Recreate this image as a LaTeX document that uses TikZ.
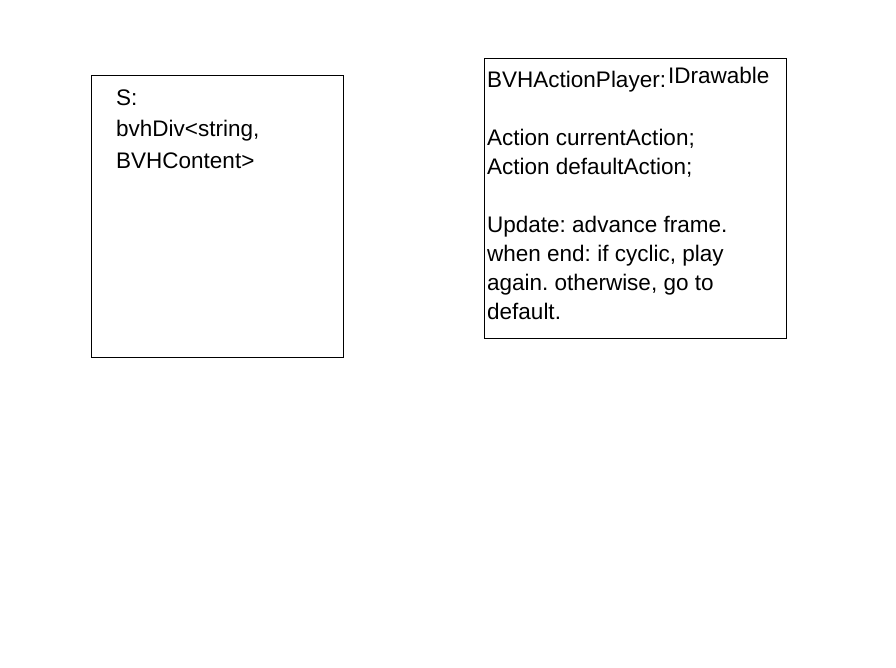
\documentclass[tikz,border=0pt]{standalone}
\usepackage{fontspec}
\setmainfont{Liberation Sans}
\usetikzlibrary{positioning}
\frenchspacing

\begin{document}
\begin{tikzpicture}[
  x=1pt,y=-1pt,
  classbox/.style={draw=black,line width=0.9pt,anchor=north west,inner sep=0pt},
  boxtext/.style={anchor=base west,align=left,inner sep=0pt,
               font=\fontsize{22.5}{29}\selectfont}
]
\useasboundingbox (0,0) rectangle (896,667);
\node[classbox,minimum width=252pt,minimum height=282pt] (divbox) at (91,75) {};
\node[classbox,minimum width=302pt,minimum height=280pt] (playerbox) at (484,58) {};
% base anchor sits on the last line
\node[boxtext,font=\fontsize{22.5}{31.5}\selectfont] (divtext) at (116,168)
  {S:\\bvhDiv<string,\\BVHContent>};
\node[boxtext] (playertext) at (487,319)
  {BVHActionPlayer:\hspace{2pt}\raisebox{3.5pt}{IDrawable}\\[29pt]
   Action currentAction;\\Action defaultAction;\\[29pt]
   Update: advance frame.\\when end: if cyclic, play\\again. otherwise, go to\\default.};
\end{tikzpicture}
\end{document}
